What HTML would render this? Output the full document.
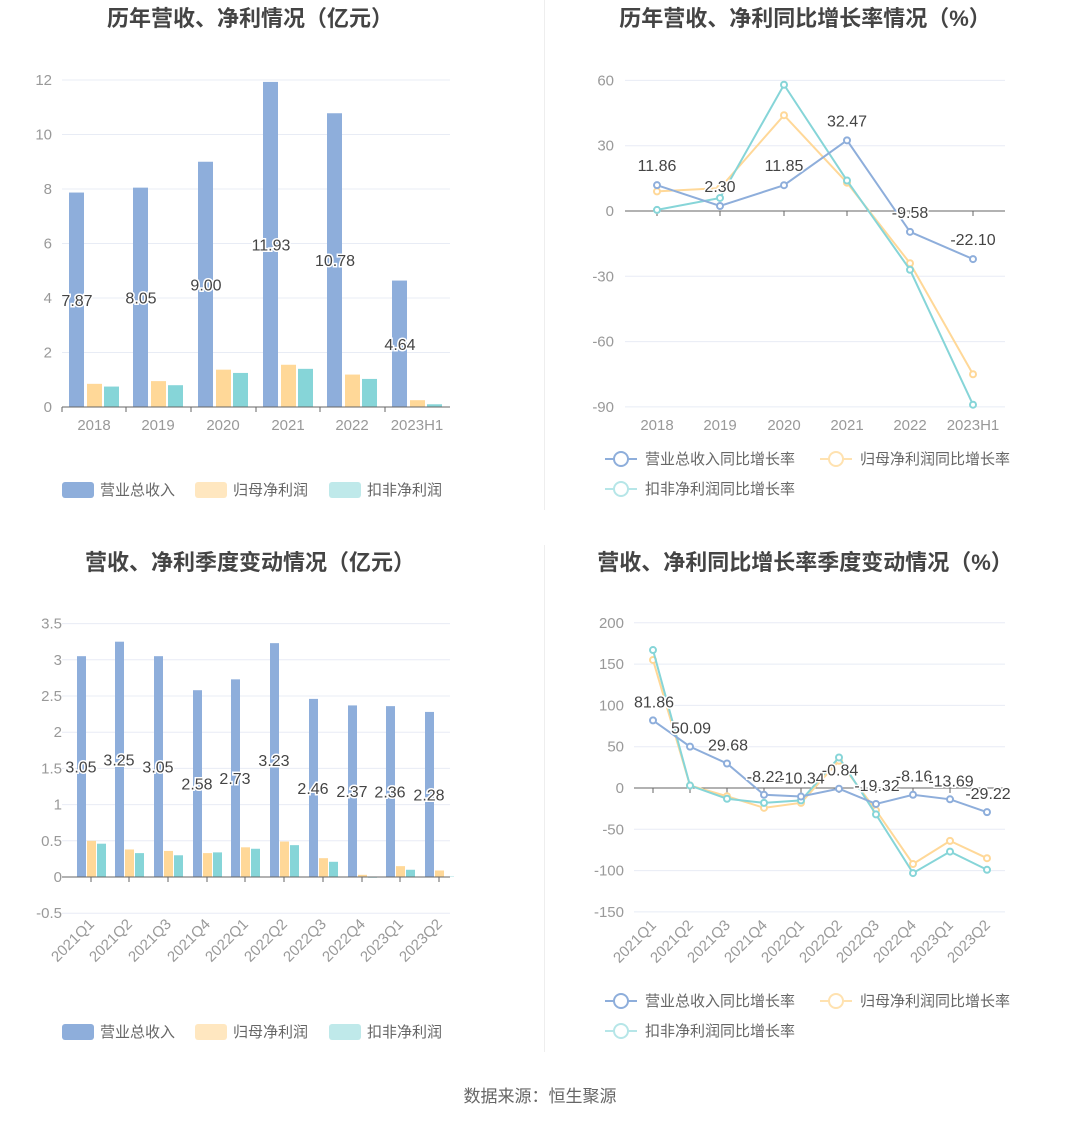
<!DOCTYPE html>
<html><head><meta charset="utf-8"><style>
body{margin:0;background:#fff;width:1081px;height:1122px;overflow:hidden}
svg text{font-family:"Liberation Sans","Noto Sans CJK SC",sans-serif}
</style></head><body>
<svg id="s" width="1081" height="1122" xmlns="http://www.w3.org/2000/svg"></svg>
<script>
const s=document.getElementById('s');let h='';
const B='#8eaedb',Y='#ffd898',T='#86d5d8',G='#999',GL='#e8ecf5';
function t(x,y,str,o={}){h+=`<text x="${x}" y="${y}" font-size="${o.fs||14}" fill="${o.c||G}" text-anchor="${o.a||'middle'}" ${o.w?'font-weight="bold"':''} ${o.tr?`transform="${o.tr}"`:''} ${o.st?'stroke="#fff" stroke-width="3" paint-order="stroke"':''}>${str}</text>`;}
// titles
t(250,26,'历年营收、净利情况（亿元）',{fs:22,w:1,c:'#444'});
t(805,26,'历年营收、净利同比增长率情况（%）',{fs:22,w:1,c:'#444'});
t(250,570,'营收、净利季度变动情况（亿元）',{fs:22,w:1,c:'#444'});
t(805,570,'营收、净利同比增长率季度变动情况（%）',{fs:22,w:1,c:'#444'});
h+=`<line x1="544.5" x2="544.5" y1="0" y2="510" stroke="#eee"/><line x1="544.5" x2="544.5" y1="545" y2="1052" stroke="#eee"/>`;
t(540,1102,'数据来源：恒生聚源',{fs:17,c:'#666'});
// chart1
{const z=407,k=27.25,cs=[94,158,223,288,352,417];
[0,2,4,6,8,10,12].forEach(v=>{const y=z-v*k;h+=`<line x1="62" x2="450" y1="${y}" y2="${y}" stroke="${GL}"/>`;t(52,y+5,v,{a:'end',fs:15});});
const r=[7.87,8.05,9.00,11.93,10.78,4.64],n=[0.85,0.95,1.37,1.55,1.19,0.25],d=[0.75,0.8,1.25,1.4,1.03,0.1];
const L=['2018','2019','2020','2021','2022','2023H1'];
cs.forEach((c,i)=>{[[r,B,-25],[n,Y,-7],[d,T,10]].forEach(([a,col,o])=>{h+=`<rect x="${c+o}" y="${z-a[i]*k}" width="15" height="${a[i]*k}" fill="${col}"/>`;});});
h+=`<line x1="62" x2="450" y1="${z}" y2="${z}" stroke="#666"/>`;
cs.forEach((c,i)=>{h+=`<line x1="${c-32}" x2="${c-32}" y1="${z}" y2="${z+5}" stroke="#666"/>`;t(c,430,L[i],{fs:15});t(c-17,z-r[i]*k/2+6,r[i].toFixed(2),{fs:16,c:'#444',st:1});});
}
function legBar(y){[[62,'#8eaedb','营业总收入'],[195,'#ffe7c0','归母净利润'],[329,'#bfe9ea','扣非净利润']].forEach(([x,c,l])=>{h+=`<rect x="${x}" y="${y-8}" width="32" height="16" rx="3" fill="${c}"/>`;t(x+38,y+5,l,{a:'start',fs:15,c:'#666'});});}
function legLine(y){[[605,y,'#8eaedb','营业总收入同比增长率'],[820,y,'#ffe2b0','归母净利润同比增长率'],[605,y+30,'#b6e6e8','扣非净利润同比增长率']].forEach(([x,yy,c,l])=>{h+=`<line x1="${x}" x2="${x+32}" y1="${yy}" y2="${yy}" stroke="${c}" stroke-width="2"/><circle cx="${x+16}" cy="${yy}" r="7" fill="#fff" stroke="${c}" stroke-width="2"/>`;t(x+40,yy+5,l,{a:'start',fs:15,c:'#666'});});}
legBar(490);legBar(1032);legLine(459);legLine(1001);
function line(cs,vals,z,k,col){h+=`<polyline fill="none" stroke="${col}" stroke-width="2" points="${cs.map((c,i)=>c+','+(z-vals[i]*k)).join(' ')}"/>`;cs.forEach((c,i)=>{h+=`<circle cx="${c}" cy="${z-vals[i]*k}" r="3" fill="#fff" stroke="${col}" stroke-width="2"/>`;});}
// chart2
{const z=211,k=65.3/30,cs=[657,720,784,847,910,973];
[60,30,0,-30,-60,-90].forEach(v=>{const y=z-v*k;h+=`<line x1="625" x2="1005" y1="${y}" y2="${y}" stroke="${GL}"/>`;t(614,y+5,v,{a:'end',fs:15});});
h+=`<line x1="625" x2="1005" y1="${z}" y2="${z}" stroke="#666"/>`;
const L=['2018','2019','2020','2021','2022','2023H1'];cs.forEach((c,i)=>{h+=`<line x1="${c}" x2="${c}" y1="${z}" y2="${z+5}" stroke="#666"/>`;t(c,430,L[i],{fs:15});});
line(cs,[9,10.5,44,13,-24,-75],z,k,Y);line(cs,[0.5,6,58,14,-27,-89],z,k,T);
const b=[11.86,2.30,11.85,32.47,-9.58,-22.10];line(cs,b,z,k,B);
cs.forEach((c,i)=>t(c,z-b[i]*k-14,b[i].toFixed(2),{fs:16,c:'#444',st:1}));}
// chart3
{const z=877,k=72.4,cs=[91,129,168,207,245,284,323,362,400,439];
[3.5,3,2.5,2,1.5,1,0.5,0,-0.5].forEach(v=>{const y=z-v*k;h+=`<line x1="62" x2="450" y1="${y}" y2="${y}" stroke="${GL}"/>`;t(62,y+5,v,{a:'end',fs:15});});
const r=[3.05,3.25,3.05,2.58,2.73,3.23,2.46,2.37,2.36,2.28],n=[0.5,0.38,0.36,0.33,0.41,0.49,0.26,0.03,0.15,0.09],d=[0.46,0.33,0.3,0.34,0.39,0.44,0.21,-0.01,0.1,0.005];
const L=['2021Q1','2021Q2','2021Q3','2021Q4','2022Q1','2022Q2','2022Q3','2022Q4','2023Q1','2023Q2'];
cs.forEach((c,i)=>{[[r,B,-14],[n,Y,-4],[d,T,6]].forEach(([a,col,o])=>{const v=a[i];h+=`<rect x="${c+o}" y="${v>=0?z-v*k:z}" width="9" height="${Math.abs(v)*k}" fill="${col}"/>`;});});
h+=`<line x1="62" x2="450" y1="${z}" y2="${z}" stroke="#666"/>`;
cs.forEach((c,i)=>{h+=`<line x1="${c}" x2="${c}" y1="${z}" y2="${z+5}" stroke="#666"/>`;t(c+4,z+48,L[i],{a:'end',fs:15,tr:`rotate(-45 ${c+4} ${z+48})`});t(c-10,z-r[i]*k/2+6,r[i].toFixed(2),{fs:16,c:'#444',st:1});});}
// chart4
{const z=788,k=41.3/50,cs=[653,690,727,764,801,839,876,913,950,987];
[200,150,100,50,0,-50,-100,-150].forEach(v=>{const y=z-v*k;h+=`<line x1="634" x2="1005" y1="${y}" y2="${y}" stroke="${GL}"/>`;t(624,y+5,v,{a:'end',fs:15});});
h+=`<line x1="634" x2="1005" y1="${z}" y2="${z}" stroke="#666"/>`;
const L=['2021Q1','2021Q2','2021Q3','2021Q4','2022Q1','2022Q2','2022Q3','2022Q4','2023Q1','2023Q2'];
cs.forEach((c,i)=>{h+=`<line x1="${c}" x2="${c}" y1="${z}" y2="${z+5}" stroke="#666"/>`;t(c+4,926,L[i],{a:'end',fs:15,tr:`rotate(-45 ${c+4} 926)`});});
line(cs,[155,3,-10,-24,-18,33,-27,-92,-64,-85],z,k,Y);line(cs,[167,3,-13,-18,-15,37,-32,-103,-77,-99],z,k,T);
const b=[81.86,50.09,29.68,-8.22,-10.34,-0.84,-19.32,-8.16,-13.69,-29.22];line(cs,b,z,k,B);
cs.forEach((c,i)=>t(c+1,z-b[i]*k-13,b[i].toFixed(2),{fs:16,c:'#444',st:1}));}
s.innerHTML=h;
</script>
</body></html>
